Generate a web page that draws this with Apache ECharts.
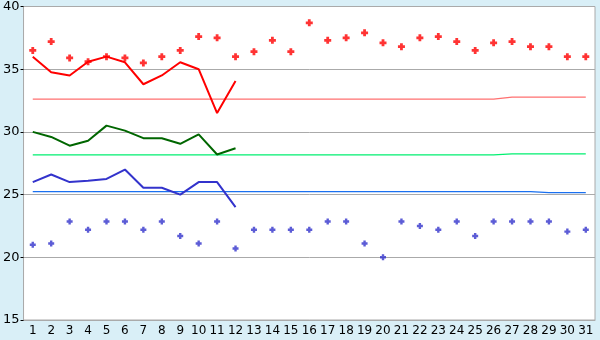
<!DOCTYPE html>
<html>
<head>
<meta charset="utf-8">
<style>html,body{margin:0;padding:0;background:#d9eff7;}#c{width:600px;height:340px;}</style>
<script src="https://cdn.jsdelivr.net/npm/echarts@6/dist/echarts.min.js"></script>
</head>
<body>
<div id="c"></div>
<script>
var days = ['1','2','3','4','5','6','7','8','9','10','11','12','13','14','15','16','17','18','19','20','21','22','23','24','25','26','27','28','29','30','31'];
var yTicks = [15, 20, 25, 30, 35, 40];
var redPoints = [36.5,37.2,35.9,35.6,36.0,35.9,35.5,36.0,36.5,37.6,37.5,36.0,36.4,37.3,36.4,38.7,37.3,37.5,37.9,37.1,36.8,37.5,37.6,37.2,36.5,37.1,37.2,36.8,36.8,36.0,36.0];
var bluePoints = [21.0,21.1,22.85,22.2,22.85,22.85,22.2,22.85,21.7,21.1,22.85,20.7,22.2,22.2,22.2,22.2,22.85,22.85,21.1,20.0,22.85,22.5,22.2,22.85,21.7,22.85,22.85,22.85,22.85,22.05,22.2];
var redLine = [36.0,34.75,34.5,35.6,36.0,35.55,33.8,34.5,35.55,35.0,31.5,34.05];
var greenLine = [30.0,29.6,28.9,29.3,30.5,30.1,29.5,29.5,29.05,29.8,28.2,28.7];
var blueLine = [26.0,26.6,26.0,26.1,26.25,27.0,25.55,25.55,25.0,26.0,26.0,24.0];
var redRef = [32.62,32.62,32.62,32.62,32.62,32.62,32.62,32.62,32.62,32.62,32.62,32.62,32.62,32.62,32.62,32.62,32.62,32.62,32.62,32.62,32.62,32.62,32.62,32.62,32.62,32.62,32.78,32.78,32.78,32.78,32.78];
var greenRef = [28.17,28.17,28.17,28.17,28.17,28.17,28.17,28.17,28.17,28.17,28.17,28.17,28.17,28.17,28.17,28.17,28.17,28.17,28.17,28.17,28.17,28.17,28.17,28.17,28.17,28.17,28.25,28.25,28.25,28.25,28.25];
var blueRef = [25.23,25.23,25.23,25.23,25.23,25.23,25.23,25.23,25.23,25.23,25.23,25.23,25.23,25.23,25.23,25.23,25.23,25.23,25.23,25.23,25.23,25.23,25.23,25.23,25.23,25.23,25.23,25.23,25.15,25.15,25.15];

var plusSym = 'path://M1.5,0h2v1.5h1.5v2h-1.5v1.5h-2v-1.5h-1.5v-2h1.5z';
var chart = echarts.init(document.getElementById('c'));
var font = 'DejaVu Sans';
chart.setOption({
  backgroundColor: '#d9eff7',
  animation: false,
  grid: {left: 20, top: 5, right: 5, bottom: 20, show: true, backgroundColor: '#ffffff', borderColor: '#aaaaaa', borderWidth: 1},
  xAxis: {
    type: 'category', data: days, boundaryGap: true,
    axisLine: {lineStyle: {color: '#aaaaaa', width: 1}},
    axisTick: {alignWithLabel: true, length: 4, lineStyle: {color: '#000000'}},
    axisLabel: {color: '#000000', fontFamily: font, fontSize: 12, margin: 5, interval: 0},
    splitLine: {show: false}
  },
  yAxis: {
    type: 'value', min: yTicks[0], max: yTicks[yTicks.length-1], interval: 5,
    axisLine: {show: true, lineStyle: {color: '#aaaaaa', width: 1}},
    axisTick: {show: true, length: 3, lineStyle: {color: '#000000'}},
    axisLabel: {color: '#000000', fontFamily: font, fontSize: 13, margin: 4},
    splitLine: {show: true, lineStyle: {color: '#aaaaaa', width: 1}}
  },
  series: [
    {type: 'line', data: redRef, symbol: 'none', lineStyle: {color: '#ff7070', width: 1.3}, z: 2},
    {type: 'line', data: greenRef, symbol: 'none', lineStyle: {color: '#00f070', width: 1.3}, z: 2},
    {type: 'line', data: blueRef, symbol: 'none', lineStyle: {color: '#1a70f0', width: 1.3}, z: 2},
    {type: 'line', data: redLine, symbol: 'none', lineStyle: {color: '#ff0000', width: 2}, z: 3},
    {type: 'line', data: greenLine, symbol: 'none', lineStyle: {color: '#006600', width: 2}, z: 3},
    {type: 'line', data: blueLine, symbol: 'none', lineStyle: {color: '#3333cc', width: 2}, z: 3},
    {type: 'scatter', data: redPoints, symbol: plusSym, symbolSize: 7, itemStyle: {color: '#ff0000'}, z: 4},
    {type: 'scatter', data: bluePoints, symbol: plusSym, symbolSize: 6, itemStyle: {color: '#3333cc'}, z: 4}
  ]
});
</script>
</body>
</html>
